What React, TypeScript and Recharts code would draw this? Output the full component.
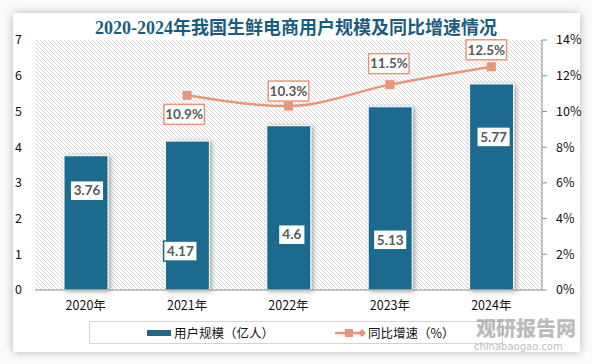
import React from 'react'
import {
  Bar,
  CartesianGrid,
  ComposedChart,
  LabelList,
  Line,
  XAxis,
  YAxis,
} from 'recharts'

const years = ['2020年', '2021年', '2022年', '2023年', '2024年']
const users = [3.76, 4.17, 4.6, 5.13, 5.77]
const growth: (number | null)[] = [null, 10.9, 10.3, 11.5, 12.5]
const leftTicks = [0, 1, 2, 3, 4, 5, 6, 7]
const rightTicks = [0, 2, 4, 6, 8, 10, 12, 14]

const title = '2020-2024年我国生鲜电商用户规模及同比增速情况'
const barName = '用户规模（亿人）'
const lineName = '同比增速（%）'

const BAR = '#1d6a8d'
const LINE = '#e8967a'
const CJK = '"Noto Sans CJK SC", "Noto Sans", sans-serif'

// label placement nudges (px), as in the source picture
const barLabelShift = [[1, 35], [-7, 110], [3, 109], [0, 133], [2, 53]]
const lineLabelShift = [[0, 0], [-3, 19], [0, -15], [-1, -21], [-5, -17]]

const data = years.map((year, i) => ({ year, users: users[i], growth: growth[i] }))

const boxWidth = (s: string) => s.length * 6.9 + 6

const BoxLabel = ({ cx, cy, text, border }: { cx: number; cy: number; text: string; border: string }) => {
  const w = boxWidth(text)
  return (
    <g>
      <rect x={cx - w / 2} y={cy - 10} width={w} height={20} fill='#fff' stroke={border} strokeWidth={1.5} />
      <text x={cx} y={cy} dy='0.35em' textAnchor='middle' fontFamily='Lato, "Open Sans", sans-serif' fontWeight={700} fontSize={13.5} fill='#595959'>
        {text}
      </text>
    </g>
  )
}

const BarLabel = (props: any) => {
  const { x, y, width, value, index } = props
  const [dx, dy] = barLabelShift[index]
  return <BoxLabel cx={x + width / 2 + dx} cy={y + dy} text={String(value)} border={BAR} />
}

const LineLabel = (props: any) => {
  const { x, y, value, index } = props
  if (value == null) return null
  const [dx, dy] = lineLabelShift[index]
  return <BoxLabel cx={x + dx} cy={y + dy} text={`${value}%`} border={LINE} />
}

const SquareDot = (props: any) => {
  const { cx, cy, value } = props
  if (value == null || cx == null) return null
  return <rect x={cx - 4.5} y={cy - 4.5} width={9} height={9} fill={LINE} />
}

const LegendBox = () => (
  <div
    style={{
      position: 'absolute',
      left: 89,
      top: 321,
      width: 414,
      height: 23,
      boxSizing: 'border-box',
      border: '1px solid #d4d4d4',
      fontFamily: CJK,
      fontSize: 12.5,
      color: '#111',
    }}
  >
    <span style={{ position: 'absolute', left: 57, top: 8, width: 24, height: 6, background: BAR }} />
    <span style={{ position: 'absolute', left: 84, top: 1, lineHeight: '20px' }}>{barName}</span>
    <svg width={32} height={12} style={{ position: 'absolute', left: 245, top: 5 }}>
      <line x1={0} y1={6} x2={28} y2={6} stroke={LINE} strokeWidth={2.5} />
      <rect x={10} y={2} width={8} height={8} fill={LINE} />
      <path d='M27 2 L31 6 L27 10 L23 6 Z' fill={LINE} />
    </svg>
    <span style={{ position: 'absolute', left: 278, top: 1, lineHeight: '20px' }}>{lineName}</span>
  </div>
)

const App = () => {
  return (
    <div style={{ position: 'absolute', left: 0, top: 0, width: 592, height: 364, background: '#fbfbfb' }}>
      <div
        style={{
          position: 'absolute',
          left: 13,
          top: 13,
          width: 567,
          height: 339,
          background: '#fff',
          boxShadow: '0 0 9px rgba(0,0,0,0.28)',
        }}
      />
      <div style={{ position: 'absolute', left: 0, top: 0 }}>
        <ComposedChart width={592} height={364} data={data} margin={{ top: 40, right: 0, bottom: 0, left: 0 }}>
          <defs>
            <pattern id='hatch' width={4} height={4} patternUnits='userSpaceOnUse'>
              <rect width={4} height={4} fill='#fff' />
              <path d='M-1,-1 L5,5 M-1,3 L1,5 M3,-1 L5,1' stroke='#d2d2d2' strokeWidth={0.9} />
            </pattern>
            <filter id='barShadow' x='-30%' y='-10%' width='160%' height='120%'>
              <feDropShadow dx={2} dy={1} stdDeviation={2.5} floodColor='#000' floodOpacity={0.35} />
            </filter>
          </defs>
          <text x={296} y={28} textAnchor='middle' dy='0.35em' fontFamily='"Liberation Serif", "DejaVu Serif", "Noto Sans CJK SC", serif' fontWeight={700} fontSize={18} fill='#1b5d7e'>
            {title}
          </text>
          <CartesianGrid fill='url(#hatch)' stroke='none' horizontal={false} vertical={false} />
          <XAxis
            dataKey='year'
            height={74}
            axisLine={{ stroke: '#8c8c8c' }}
            tickLine={false}
            tickSize={0}
            tickMargin={11}
            tick={{ fontSize: 12.5, fill: '#111', fontFamily: CJK }}
          />
          <YAxis
            yAxisId='left'
            width={35}
            domain={[0, 7]}
            ticks={leftTicks}
            axisLine={false}
            tickLine={false}
            tickSize={0}
            tickMargin={13}
            tick={{ fontSize: 12.5, fill: '#111', fontFamily: CJK }}
          />
          <YAxis
            yAxisId='right'
            orientation='right'
            width={50}
            domain={[0, 14]}
            ticks={rightTicks}
            tickFormatter={(v) => `${v}%`}
            axisLine={{ stroke: '#8c8c8c' }}
            tickLine={{ stroke: '#8c8c8c' }}
            tickSize={5}
            tickMargin={9}
            tick={{ fontSize: 12.5, fill: '#111', fontFamily: CJK, textAnchor: 'start' }}
          />
          <Bar
            yAxisId='left'
            dataKey='users'
            name={barName}
            barSize={44}
            fill={BAR}
            stroke='#fff'
            strokeWidth={1}
            filter='url(#barShadow)'
            isAnimationActive={false}
          >
            <LabelList dataKey='users' content={<BarLabel />} />
          </Bar>
          <Line
            yAxisId='right'
            dataKey='growth'
            name={lineName}
            type='monotone'
            stroke={LINE}
            strokeWidth={2.5}
            dot={<SquareDot />}
            activeDot={false}
            isAnimationActive={false}
          >
            <LabelList dataKey='growth' content={<LineLabel />} />
          </Line>
        </ComposedChart>
      </div>
      <LegendBox />
      <div style={{ position: 'absolute', left: 476, top: 317, fontFamily: CJK, fontWeight: 900, fontSize: 20, lineHeight: '22px', color: 'rgba(120,120,120,0.5)' }}>
        观研报告网
      </div>
      <div style={{ position: 'absolute', left: 474, top: 341, fontFamily: '"DejaVu Sans", sans-serif', fontSize: 10, lineHeight: '12px', color: 'rgba(120,120,120,0.5)' }}>
        chinabaogao.com
      </div>
    </div>
  )
}

export default App
